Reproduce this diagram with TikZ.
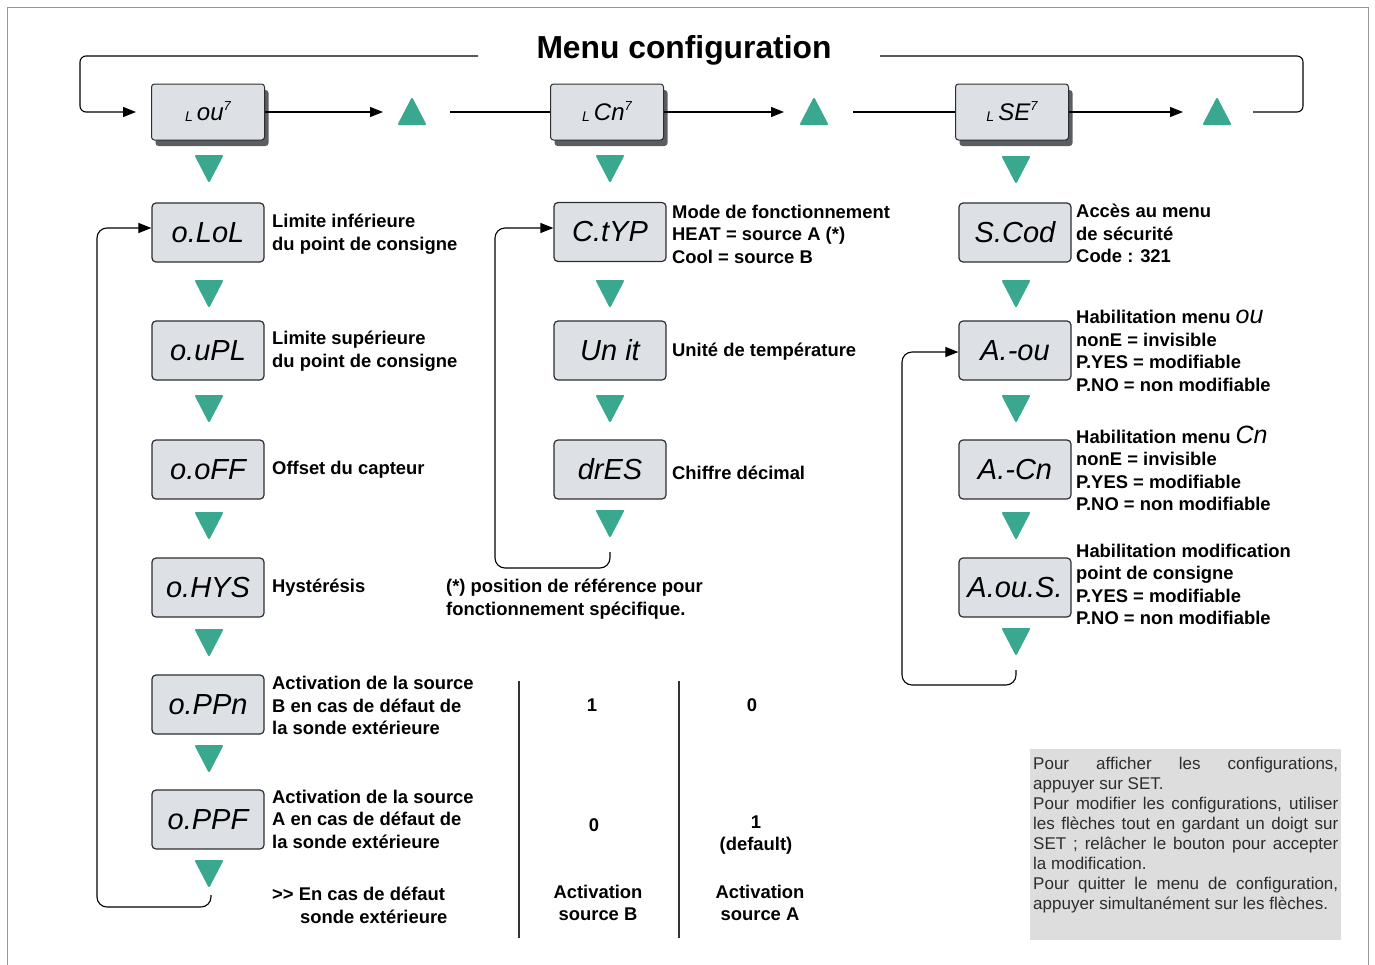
\documentclass[tikz,border=0pt]{standalone}
\usepackage{fontspec}
\setmainfont{Liberation Sans}
\newfontfamily\dispfamily{Liberation Sans}
\usetikzlibrary{arrows.meta,shadows}

\definecolor{tealmark}{RGB}{58,168,142}
\definecolor{lcdfill}{RGB}{221,224,229}
\definecolor{lcdedge}{RGB}{45,45,48}
\definecolor{lcdside}{RGB}{90,93,98}
\definecolor{notefill}{RGB}{221,221,221}
\definecolor{notetext}{RGB}{45,45,45}
\definecolor{frameline}{RGB}{150,150,150}

\newcommand\lblfont{\fontsize{18.4}{22.5}\selectfont\bfseries}
\newcommand\lcdfont{\fontsize{29}{30}\selectfont\dispfamily\itshape}
\newcommand\menufont{\fontsize{24}{24}\selectfont\dispfamily\itshape}
\newcommand\notefont{\fontsize{17}{20}\selectfont}
\newcommand\inlcd[1]{{\fontsize{25}{18}\selectfont\mdseries\dispfamily\itshape #1}}
\newcommand\menuname[1]{\raisebox{-1pt}{\fontsize{14}{14}\selectfont L}\,#1\raisebox{10pt}{\fontsize{13}{13}\selectfont 7}}

\begin{document}
\begin{tikzpicture}[x=1pt,y=-1pt,
  lcd/.style={draw=lcdedge, line width=1.2pt, fill=lcdfill, rounded corners=4pt,
    minimum width=112pt, minimum height=59pt, inner sep=0pt, font=\lcdfont},
  menubox/.style={draw=lcdedge, line width=1pt, fill=lcdfill, rounded corners=3pt,
    minimum width=113pt, minimum height=56pt, inner sep=0pt, font=\menufont,
    drop shadow={shadow xshift=4pt, shadow yshift=-6pt, fill=lcdside, opacity=1}},
  lbl/.style={anchor=west, align=left, inner sep=0pt, font=\lblfont},
  cell/.style={align=center, inner sep=0pt, font=\lblfont},
  conn/.style={line width=1.1pt, draw=black},
  arr/.style={conn, -{Triangle[length=13pt,width=10pt]}},
  keymark/.style={fill=tealmark, draw=tealmark, line width=2pt, line join=round},
]
\useasboundingbox (0,0) rectangle (1375,964);

% outer frame
\draw[frameline, line width=0.8pt] (7,970) -- (7,7) -- (1368,7) -- (1368,970);

% title
\node[font=\fontsize{31.8}{36}\selectfont\bfseries, inner sep=0pt] (title) at (684,50) {Menu configuration};

% menu row
\node[menubox] (lou) at (208,112) {\menuname{ou}};
\node[menubox] (lcn) at (607,112) {\menuname{Cn}};
\node[menubox] (lse) at (1012,112) {\menuname{SE}};

\coordinate (tl) at (478,56);
\coordinate (tr) at (880,56);
\coordinate (u1) at (383,112);
\coordinate (u2) at (784,112);
\coordinate (u3) at (1183,112);
\coordinate (v1) at (450,112);
\coordinate (v2) at (853,112);
\coordinate (v3) at (1253,112);

\draw[arr, rounded corners=6pt] (tl) -- (80,56) -- (80,112) -- ([xshift=-15pt]lou.west);
\draw[conn, rounded corners=6pt] (v3) -- (1303,112) -- (1303,56) -- (tr);
\draw[arr] (lou.east) -- (u1);
\draw[arr] (lcn.east) -- (u2);
\draw[arr] (lse.east) -- (u3);
\draw[conn] (v1) -- (lcn.west);
\draw[conn] (v2) -- (lse.west);

% up keys
\foreach \x/\y in {412/99, 814/99, 1217/99}
  \filldraw[keymark] (\x-13,\y+25) -- (\x+13,\y+25) -- (\x,\y) -- cycle;

% down keys
\foreach \x/\y in {209/156, 209/281, 209/396, 209/513, 209/630, 209/746, 209/861,
                   610/156, 610/281, 610/396, 610/511,
                   1016/157, 1016/281, 1016/396, 1016/513, 1016/629}
  \filldraw[keymark] (\x-13,\y) -- (\x+13,\y) -- (\x,\y+25) -- cycle;

% column 1
\node[lcd] (olol) at (208,232.5) {o.LoL};
\node[lcd] (oupl) at (208,350.5) {o.uPL};
\node[lcd] (ooff) at (208,469.5) {o.oFF};
\node[lcd] (ohys) at (208,587.5) {o.HYS};
\node[lcd] (oppn) at (208,704.5) {o.PPn};
\node[lcd] (oppf) at (208,819.5) {o.PPF};

\node[lbl] at (272,234) {Limite inférieure\\du point de consigne};
\node[lbl] at (272,351) {Limite supérieure\\du point de consigne};
\node[lbl] at (272,470) {Offset du capteur};
\node[lbl] at (272,588) {Hystérésis};
\node[lbl] at (272,705.5) {Activation de la source\\B en cas de défaut de\\la sonde extérieure};
\node[lbl] at (272,819) {Activation de la source\\A en cas de défaut de\\la sonde extérieure};
\node[lbl] at (272,905.5) {{>}{>} En cas de défaut\\\hspace*{28pt}sonde extérieure};

\coordinate (e1) at (211,895);
\draw[arr, rounded corners=10pt] (e1) -- (211,907) -- (97,907) -- (97,228) -- ([yshift=4.5pt]olol.west);

% column 2
\node[lcd] (ctyp) at (610,232) {C.tYP};
\node[lcd] (unit) at (610,350.5) {Un it};
\node[lcd] (dres) at (610,469.5) {drES};

\node[lbl] at (672,234) {Mode de fonctionnement\\HEAT = source A (*)\\Cool = source B};
\node[lbl] at (672,352) {Unité de température};
\node[lbl] at (672,473) {Chiffre décimal};
\node[lbl] at (446,599) {(*) position de référence pour\\fonctionnement spécifique.};

\coordinate (e2) at (610,552);
\draw[arr, rounded corners=10pt] (e2) -- (610,568) -- (495,568) -- (495,228) -- ([yshift=4pt]ctyp.west);

% column 3
\node[lcd] (scod) at (1015,232.5) {S.Cod};
\node[lcd] (aou) at (1015,350.5) {A.-ou};
\node[lcd] (acn) at (1015,469.5) {A.-Cn};
\node[lcd] (aous) at (1015,587.5) {A.ou.S.};

\node[lbl] at (1076,233.5) {Accès au menu\\de sécurité\\Code : 321};
\node[lbl] at (1076,351) {Habilitation menu \inlcd{ou}\\nonE = invisible\\P.YES = modifiable\\P.NO = non modifiable};
\node[lbl] at (1076,468.5) {Habilitation menu \inlcd{Cn}\\nonE = invisible\\P.YES = modifiable\\P.NO = non modifiable};
\node[lbl] at (1076,584.5) {Habilitation modification\\point de consigne\\P.YES = modifiable\\P.NO = non modifiable};

\coordinate (e3) at (1016,670);
\draw[arr, rounded corners=10pt] (e3) -- (1016,685) -- (902,685) -- (902,352) -- ([yshift=-1.5pt]aou.west);

% source table
\coordinate (c1t) at (519,681);
\coordinate (c1b) at (519,938);
\coordinate (c2t) at (679,681);
\coordinate (c2b) at (679,938);
\draw[line width=1.1pt, draw=black!80] (c1t) -- (c1b);
\draw[line width=1.1pt, draw=black!80] (c2t) -- (c2b);
\node[cell] at (592,705) {1};
\node[cell] at (752,705) {0};
\node[cell] at (594,825) {0};
\node[cell] at (756,835) {1\\(default)};
\node[cell] at (598,903) {Activation\\source B};
\node[cell] at (760,903) {Activation\\source A};

% note
\fill[notefill] (1030,749) rectangle (1341,940);
\node[anchor=north west, inner sep=0pt, text width=305pt, align=justify,
      font=\notefont, text=notetext] (note) at (1033,757)
  {Pour afficher les configurations,\linebreak appuyer sur SET.\par
   Pour modifier les configurations, utiliser\linebreak les flèches tout en gardant un doigt sur\linebreak SET ; relâcher le bouton pour accepter\linebreak la modification.\par
   Pour quitter le menu de configuration,\linebreak appuyer simultanément sur les flèches.};
\end{tikzpicture}
\end{document}
